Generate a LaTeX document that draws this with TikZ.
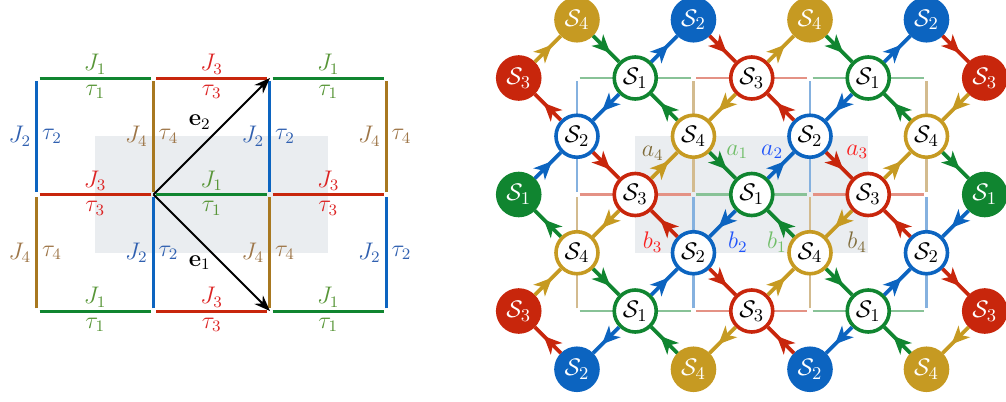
\documentclass[tikz,border=0pt]{standalone}
\usepackage{amsmath}
\usepackage{tikz}
\usetikzlibrary{arrows.meta, decorations.markings, calc}

\definecolor{line1}{RGB}{16,133,48}
\definecolor{line2}{RGB}{12,100,192}
\definecolor{line3}{RGB}{200,38,12}
\definecolor{line4}{RGB}{168,120,32}
\definecolor{site1}{RGB}{16,133,48}
\definecolor{site2}{RGB}{12,100,192}
\definecolor{site3}{RGB}{200,38,12}
\definecolor{site4}{RGB}{198,154,34}
\definecolor{tj1}{RGB}{88,150,56}
\definecolor{tj2}{RGB}{48,96,176}
\definecolor{tj3}{RGB}{220,36,36}
\definecolor{tj4}{RGB}{158,118,72}
\definecolor{ta1}{RGB}{112,190,104}
\definecolor{ta2}{RGB}{32,84,250}
\definecolor{ta3}{RGB}{250,32,32}
\definecolor{ta4}{RGB}{128,108,58}
\definecolor{cellgray}{RGB}{234,237,240}

\begin{document}
\begin{tikzpicture}[x=29.125pt, y=29.125pt, font=\fontsize{12}{14}\selectfont,
    bond/.style={line width=1.5pt, shorten >=1.3pt, shorten <=1.3pt},
    faint/.style={line width=1.1pt, shorten >=1.3pt, shorten <=1.3pt},
    site/.style={circle, draw=#1, fill=white, line width=1.8pt, minimum size=21pt, inner sep=0pt,
        font=\fontsize{13}{15}\selectfont},
    rim/.style={circle, draw=#1, fill=#1, text=white, line width=1.8pt, minimum size=21pt, inner sep=0pt,
        font=\fontsize{13}{15}\selectfont},
    flow/.style={color=#1, line width=1.9pt, postaction={decorate},
        decoration={markings, mark=at position 0.66 with {\arrow{Stealth[length=9pt, width=8pt, inset=2.5pt]}}}}]
    \useasboundingbox (-0.635,-1.545) rectangle (16.635,5.339);

    % couplings J and tau on the square lattice
    \fill[cellgray] (1,1) rectangle (5,3);
    \foreach \x in {0,...,3}
        \foreach \y in {0,...,2}
            \coordinate (v\x\y) at (2*\x,2*\y);
    \foreach \x/\y/\n in {0/0/1, 1/0/3, 2/0/1, 0/1/3, 1/1/1, 2/1/3, 0/2/1, 1/2/3, 2/2/1} {
        \pgfmathtruncatemacro\xn{\x+1}
        \draw[bond, draw=line\n] (v\x\y) -- (v\xn\y)
            node[midway, above, inner sep=1.2pt, text=tj\n] (jh\x\y) {$J_\n$}
            node[midway, below, inner sep=2.6pt, text=tj\n] (th\x\y) {$\tau_\n$};
    }
    \foreach \x/\y/\n in {0/1/2, 1/1/4, 2/1/2, 3/1/4, 0/0/4, 1/0/2, 2/0/4, 3/0/2} {
        \pgfmathtruncatemacro\yn{\y+1}
        \draw[bond, draw=line\n] (v\x\y) -- (v\x\yn)
            node[midway, left, inner sep=2.2pt, text=tj\n] (jv\x\y) {$J_\n$}
            node[midway, right, inner sep=1.8pt, text=tj\n] (tv\x\y) {$\tau_\n$};
    }
    \draw[-{Stealth[length=8pt, width=6pt]}, line width=1pt] (v11) -- (v22)
        node[midway, xshift=-6pt, yshift=7pt] (e2) {$\mathbf{e}_2$};
    \draw[-{Stealth[length=8pt, width=6pt]}, line width=1pt] (v11) -- (v20)
        node[midway, xshift=-6pt, yshift=-5pt] (e1) {$\mathbf{e}_1$};

    % spins S on the bonds
    \begin{scope}[shift={(9.27,0)}]
        \fill[cellgray] (1,1) rectangle (5,3);
        \foreach \x in {0,...,3}
            \foreach \y in {0,...,2}
                \coordinate (w\x\y) at (2*\x,2*\y);
        \foreach \x/\y/\n in {0/0/1, 1/0/3, 2/0/1, 0/1/3, 1/1/1, 2/1/3, 0/2/1, 1/2/3, 2/2/1} {
            \pgfmathtruncatemacro\xn{\x+1}
            \draw[faint, draw=line\n!50] (w\x\y) -- (w\xn\y);
        }
        \foreach \x/\y/\n in {0/1/2, 1/1/4, 2/1/2, 3/1/4, 0/0/4, 1/0/2, 2/0/4, 3/0/2} {
            \pgfmathtruncatemacro\yn{\y+1}
            \draw[faint, draw=line\n!50] (w\x\y) -- (w\x\yn);
        }

        \foreach \i/\j/\k in {2/1/1, 4/1/3, 6/1/1, 1/2/2, 3/2/4, 5/2/2, 7/2/4,
                2/3/3, 4/3/1, 6/3/3, 1/4/4, 3/4/2, 5/4/4, 7/4/2, 2/5/1, 4/5/3, 6/5/1}
            \node[site=site\k] (n-\i-\j) at (\i-1,5-\j) {$\mathcal{S}_\k$};
        \foreach \i/\j/\k in {1/0/4, 3/0/2, 5/0/4, 7/0/2, 1/6/2, 3/6/4, 5/6/2, 7/6/4,
                0/1/3, 0/3/1, 0/5/3, 8/1/3, 8/3/1, 8/5/3}
            \node[rim=site\k] (n-\i-\j) at (\i-1,5-\j) {$\mathcal{S}_\k$};

        \foreach \i/\j/\k/\m in {1/0/4/1, 3/0/2/3, 5/0/4/1, 7/0/2/3, 1/2/2/3, 3/2/4/1, 5/2/2/3, 7/2/4/1,
                1/4/4/1, 3/4/2/3, 5/4/4/1, 7/4/2/3, 1/6/2/3, 3/6/4/1, 5/6/2/3, 7/6/4/1} {
            \pgfmathtruncatemacro\il{\i-1}
            \pgfmathtruncatemacro\ir{\i+1}
            \pgfmathtruncatemacro\ju{\j-1}
            \pgfmathtruncatemacro\jd{\j+1}
            \ifnum\j>0
                \draw[flow=site\k] (n-\ir-\ju) -- (n-\i-\j);
                \draw[flow=site\m] (n-\i-\j) -- (n-\il-\ju);
            \fi
            \ifnum\j<6
                \draw[flow=site\k] (n-\il-\jd) -- (n-\i-\j);
                \draw[flow=site\m] (n-\i-\j) -- (n-\ir-\jd);
            \fi
        }

        \node[text=ta4] (a4) at ($(n-2-3)!0.5!(n-3-2)+(-0.2,0.21)$) {$a_4$};
        \node[text=ta1] (a1) at ($(n-3-2)!0.5!(n-4-3)+(0.25,0.23)$) {$a_1$};
        \node[text=ta2] (a2) at ($(n-4-3)!0.5!(n-5-2)+(-0.15,0.23)$) {$a_2$};
        \node[text=ta3] (a3) at ($(n-5-2)!0.5!(n-6-3)+(0.31,0.23)$) {$a_3$};
        \node[text=ta3] (b3) at ($(n-2-3)!0.5!(n-3-4)+(-0.2,-0.32)$) {$b_3$};
        \node[text=ta2] (b2) at ($(n-4-3)!0.5!(n-3-4)+(0.26,-0.32)$) {$b_2$};
        \node[text=ta1] (b1) at ($(n-4-3)!0.5!(n-5-4)+(-0.07,-0.32)$) {$b_1$};
        \node[text=ta4] (b4) at ($(n-6-3)!0.5!(n-5-4)+(0.31,-0.32)$) {$b_4$};
    \end{scope}
\end{tikzpicture}
\end{document}
